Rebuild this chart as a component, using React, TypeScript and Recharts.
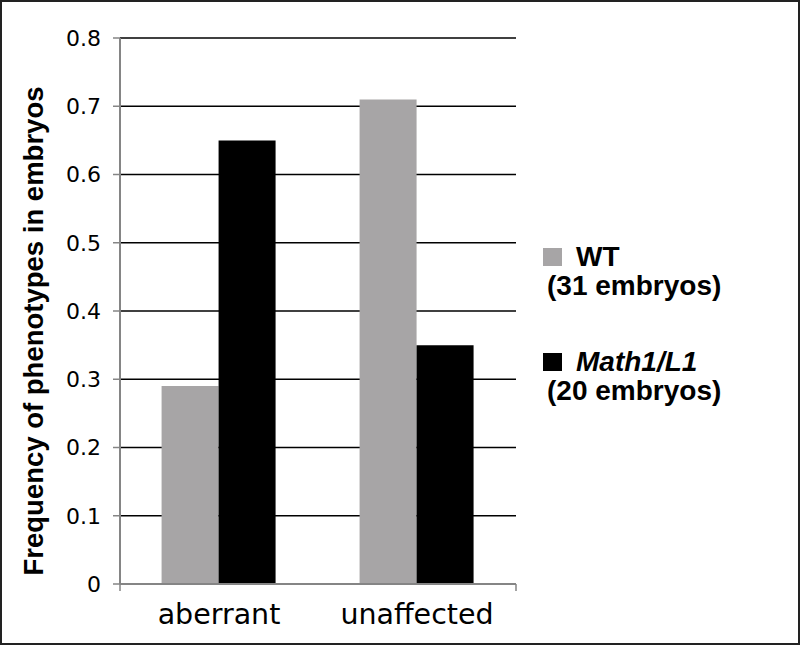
import { Bar, BarChart, CartesianGrid, Legend, XAxis, YAxis } from "recharts";

const categories = ["aberrant", "unaffected"];
const wtValues = [0.29, 0.71];
const mathValues = [0.65, 0.35];
const yTicks = [0, 0.1, 0.2, 0.3, 0.4, 0.5, 0.6, 0.7, 0.8];
const edgeTicks = [0, 1, 2];
const seriesNames = ["WT", "Math1/L1"];
const seriesCounts = ["(31 embryos)", "(20 embryos)"];
const seriesColors = ["#a7a5a6", "#000000"];
const yLabel = "Frequency of phenotypes in embryos";

const data = categories.map((c, i) => ({ category: c, wt: wtValues[i], math: mathValues[i] }));

const axisGray = "#858585";

function LegendBox() {
  return (
    <div style={{ fontFamily: "'Liberation Sans', Arial, sans-serif", fontWeight: "bold", fontSize: 28, color: "#000" }}>
      {seriesNames.map((name, i) => (
        <div key={name} style={{ marginBottom: i === 0 ? 47 : 0, lineHeight: "29px" }}>
          <div style={{ display: "flex", alignItems: "center" }}>
            <span style={{ display: "inline-block", width: 19, height: 18, background: seriesColors[i], marginRight: 14 }} />
            <span style={{ fontStyle: i === 1 ? "italic" : "normal" }}>{name}</span>
          </div>
          <div style={{ marginLeft: 4 }}>{seriesCounts[i]}</div>
        </div>
      ))}
    </div>
  );
}

function YLabel(props: any) {
  const vb = props.viewBox || { x: 0, y: 0, width: 0, height: 0 };
  const cx = 33;
  const cy = vb.y + vb.height / 2 + 20;
  return (
    <text
      x={cx}
      y={cy}
      transform={`rotate(-90, ${cx}, ${cy})`}
      textAnchor="middle"
      dominantBaseline="central"
      fontFamily="'Liberation Sans', Arial, sans-serif"
      fontWeight="bold"
      fontSize={27.5}
      fill="#000"
    >
      {yLabel}
    </text>
  );
}

export default function App() {
  return (
    <div style={{ position: "absolute", left: 0, top: 0, width: 800, height: 645, background: "#fff" }}>
      <BarChart
        width={800}
        height={645}
        data={data}
        margin={{ top: 38, right: 284, bottom: 0, left: 0 }}
        barCategoryGap="21%"
        barGap={0}
      >
        <CartesianGrid xAxisId="cat" stroke="#000" strokeWidth={1.5} vertical={false} />
        <XAxis
          type="number"
          domain={[0, 2]}
          ticks={edgeTicks}
          height={8}
          axisLine={{ stroke: axisGray, strokeWidth: 2 }}
          tickSize={7}
          tickLine={{ stroke: axisGray, strokeWidth: 1.5 }}
          tickFormatter={() => ""}
        />
        <XAxis
          xAxisId="cat"
          dataKey="category"
          height={53}
          axisLine={false}
          tickLine={false}
          tickMargin={6}
          tick={{ fill: "#000", fontSize: 28.5, fontFamily: "'DejaVu Sans', Verdana, sans-serif" }}
        />
        <YAxis
          width={120}
          domain={[0, 0.8]}
          ticks={yTicks}
          tickFormatter={(v: number) => String(Number(v.toFixed(1)))}
          axisLine={{ stroke: axisGray, strokeWidth: 2 }}
          tickSize={7}
          tickMargin={12}
          tickLine={{ stroke: axisGray, strokeWidth: 1.5 }}
          tick={{ fill: "#000", fontSize: 22, fontFamily: "'DejaVu Sans', Verdana, sans-serif" }}
          label={{ content: YLabel }}
        />
        <YAxis
          yAxisId="right"
          orientation="right"
          width={0}
          domain={[0, 0.8]}
          tick={false}
          axisLine={{ stroke: axisGray, strokeWidth: 2 }}
        />
        <Legend
          layout="vertical"
          align="center"
          verticalAlign="middle"
          content={() => <LegendBox />}
          wrapperStyle={{ left: 543, top: 242, width: 255 }}
        />
        <Bar xAxisId="cat" dataKey="wt" name={seriesNames[0]} fill={seriesColors[0]} isAnimationActive={false} />
        <Bar xAxisId="cat" dataKey="math" name={seriesNames[1]} fill={seriesColors[1]} isAnimationActive={false} />
      </BarChart>
      <div
        style={{
          position: "absolute",
          left: 0,
          top: 0,
          width: 800,
          height: 645,
          border: "2px solid #222",
          boxSizing: "border-box",
          pointerEvents: "none"
        }}
      />
    </div>
  );
}
